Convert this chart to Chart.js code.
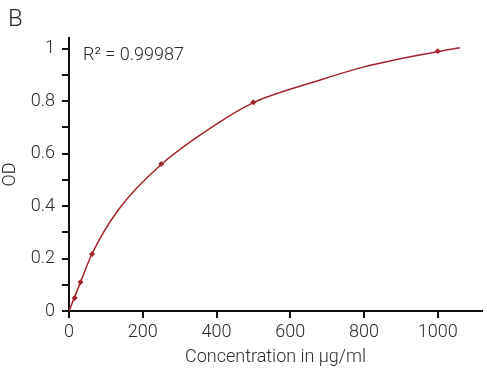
<!DOCTYPE html>
<html><head><meta charset="utf-8">
<script src="https://cdn.jsdelivr.net/npm/chart.js@4"></script>
<style>html,body{margin:0;padding:0;background:#fff}#wrap{width:487px;height:371px;position:relative}</style>
</head><body><div id="wrap"><canvas id="c" width="487" height="371"></canvas></div>
<script>
const concentrations = [15.6, 31.25, 62.5, 250, 500, 1000];
const odValues = [0.05, 0.11, 0.217, 0.56, 0.795, 0.99];
const curveX = [0, 31.25, 62.5, 133, 250, 400, 500, 677, 800, 1000, 1060];
const curveY = [0, 0.11, 0.218, 0.384, 0.558, 0.712, 0.794, 0.878, 0.93, 0.988, 1.003];
const xTicks = [0, 200, 400, 600, 800, 1000];
const rSquared = 'R² = 0.99987';
const panelLabel = 'B';

const FONT = "Roboto, sans-serif";
const RED = '#a3252b';
const TXT = '#2a2a2a';

const textPlugin = {
  id: 'texts',
  afterDraw(chart) {
    const ctx = chart.ctx;
    ctx.save();
    ctx.fillStyle = TXT;
    ctx.textBaseline = 'alphabetic';
    ctx.textAlign = 'left';
    ctx.font = "300 24px " + FONT;
    ctx.fillText(panelLabel, 8, 26);
    ctx.font = "300 18px " + FONT;
    ctx.fillText(rSquared, 83, 60);
    ctx.restore();
  }
};

new Chart(document.getElementById('c'), {
  type: 'scatter',
  data: {
    datasets: [
      {
        data: curveX.map((x, i) => ({x, y: curveY[i]})),
        showLine: true, borderColor: RED, borderWidth: 1.5, pointRadius: 0,
        cubicInterpolationMode: 'monotone', fill: false
      },
      {
        data: concentrations.map((x, i) => ({x, y: odValues[i]})),
        showLine: false, pointStyle: 'rectRot', pointRadius: 2.5,
        backgroundColor: RED, borderColor: RED, borderWidth: 1
      }
    ]
  },
  options: {
    responsive: false, animation: false,
    layout: { padding: { top: 38, right: 3, left: 0, bottom: 0 } },
    plugins: { legend: { display: false }, tooltip: { enabled: false } },
    scales: {
      x: {
        type: 'linear', min: 0, max: 1120,
        border: { display: true, color: '#111', width: 2 },
        grid: { drawOnChartArea: false, drawTicks: true, tickLength: 7, color: '#111', lineWidth: 2 },
        ticks: { color: TXT, font: { family: FONT, size: 18, weight: 300 }, padding: 4, maxRotation: 0,
          callback(v) { return String(v); } },
        afterBuildTicks(scale) { scale.ticks = xTicks.map(v => ({ value: v })); },
        title: { display: true, text: 'Concentration in μg/ml', color: TXT, font: { family: FONT, size: 18, weight: 300 }, padding: { top: 2, bottom: 3 } },
        afterFit(scale) { scale.height = 60; }
      },
      y: {
        type: 'linear', min: 0, max: 1.04,
        border: { display: true, color: '#111', width: 2 },
        grid: { drawOnChartArea: false, drawTicks: true, tickLength: 7, color: '#111', lineWidth: 2 },
        ticks: {
          color: TXT, font: { family: FONT, size: 18, weight: 300 }, padding: 7,
          callback(v) { const r = Math.round(v * 10); return r % 2 === 0 ? String(Number((r / 10).toFixed(1))) : ''; }
        },
        afterBuildTicks(scale) { const t = []; for (let i = 0; i <= 10; i++) t.push({ value: i / 10 }); scale.ticks = t; },
        title: { display: true, text: 'OD', color: TXT, font: { family: FONT, size: 18, weight: 300 }, padding: { top: 0, bottom: 4 } },
        afterFit(scale) { scale.width = 69; }
      }
    }
  },
  plugins: [textPlugin]
});
</script></body></html>
